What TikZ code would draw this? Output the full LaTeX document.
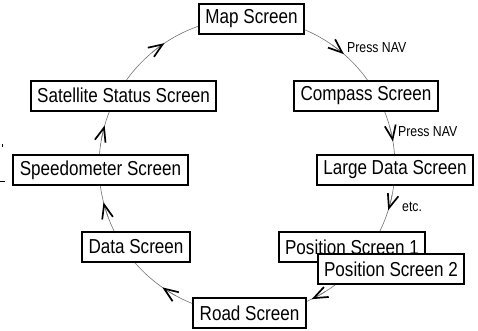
\documentclass[tikz,border=0pt]{standalone}
\usepackage{fontspec}
\setmainfont{Liberation Sans}[FakeStretch=0.845]
\usetikzlibrary{arrows.meta,calc,backgrounds}
\begin{document}
\begin{tikzpicture}[x=1pt,y=-1pt,
  scr/.style={draw=black, line width=2pt, fill=white,
    font=\fontsize{20.2}{22}\selectfont, inner xsep=6.5pt, inner ysep=0pt,
    minimum height=30pt},
  lbl/.style={font=\fontsize{14.5}{16}\selectfont, inner sep=0pt},
  arcline/.style={draw=black!55, line width=0.6pt},
  tipv/.style={arcline, -{Straight Barb[length=14pt,width=11pt,line width=1.7pt,color=black]}}]
\useasboundingbox (0,0) rectangle (478,330);
\coordinate (O) at (247,166);
\def\R{148pt}
\newcommand\cyc[3]{\draw[arcline] let \p0=(O), \p1=(#1), \p2=(#2),
  \n1={atan2(\y1-\y0,\x1-\x0)}, \n2={atan2(\y2-\y0,\x2-\x0)#3} in
  ($(O)+(\n1:\R)$) arc[start angle=\n1, end angle=\n2, radius=\R];}
\newcommand\tipat[1]{\draw[tipv] ($(O)+(#1+6:\R)$) arc[start angle=#1+6, end angle=#1, radius=\R];}

\node[scr] (map)   at (251.5,18.5) {Map Screen};
\node[scr] (sat)   at (123.5,95.5) {Satellite Status Screen};
\node[scr] (comp)  at (366,95.5)   {Compass Screen};
\node[scr] (speed) at (100.5,170)  {Speedometer Screen};
\node[scr] (large) at (395,170)    {Large Data Screen};
\node[scr] (data)  at (136,246.5)  {Data Screen};
\node[scr] (pos1)  at (352,247)    {Position Screen 1};
\node[scr] (pos2)  at (391,269)    {Position Screen 2};
\node[scr] (road)  at (249.5,313)  {Road Screen};

\begin{scope}[on background layer]
\cyc{map}{comp}{}
\cyc{comp}{large}{}
\cyc{large}{pos1}{}
\cyc{pos2}{road}{}
\cyc{road}{data}{}
\cyc{data}{speed}{}
\cyc{speed}{sat}{-360}
\cyc{sat}{map}{}
\end{scope}

\tipat{49.1}
\tipat{9.5}
\tipat{-17.4}
\tipat{-64.1}
\tipat{-124.9}
\tipat{-165.8}
\tipat{164.1}
\tipat{123.9}

\node[lbl, anchor=west] (l1) at (347,48)  {Press NAV};
\node[lbl, anchor=west] (l2) at (398,132) {Press NAV};
\node[lbl, anchor=west] (l3) at (402,207) {etc.};

\draw[line width=0.8pt] (0,181) -- (5,181);
\draw[line width=0.6pt] (2,144) -- (2,147);
\end{tikzpicture}
\end{document}
